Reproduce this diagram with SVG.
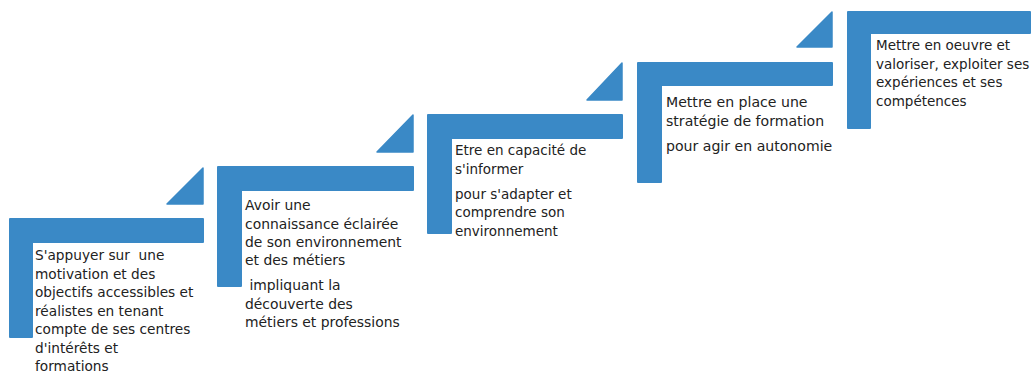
<svg xmlns="http://www.w3.org/2000/svg" width="1032" height="372" viewBox="0 0 1032 372">
<style>
.bar{fill:#3A89C6;stroke:#3A89C6;stroke-width:2;stroke-linejoin:round}
.tri{fill:#3A89C6;stroke:#3A89C6;stroke-width:1.5;stroke-linejoin:round}
.t{font-family:"DejaVu Sans","Liberation Sans",sans-serif;font-size:13.5px;fill:#222222;white-space:pre}
.t1{font-size:13.7px}
.t2{font-size:13.9px}
.t4{font-size:14.1px}
</style>
<rect width="1032" height="372" fill="#ffffff"/>
<g id="step1">
<path class="bar" d="M10,219 H203 V242 H32 V337 H10 Z"/>
<path class="tri" d="M203,168 V204 H167 Z"/>
<text class="t t1" x="35" y="260">S'appuyer sur  une</text>
<text class="t t1" x="35" y="278.5">motivation et des</text>
<text class="t t1" x="35" y="297">objectifs accessibles et</text>
<text class="t t1" x="35" y="315.5">réalistes en tenant</text>
<text class="t t1" x="35" y="334">compte de ses centres</text>
<text class="t t1" x="35" y="352.5">d'intérêts et</text>
<text class="t t1" x="35" y="370.5">formations</text>
</g>
<g id="step2">
<path class="bar" d="M218,167 H413 V190 H241 V286 H218 Z"/>
<path class="tri" d="M413,115 V152 H377 Z"/>
<text class="t t2" x="245" y="210">Avoir une</text>
<text class="t t2" x="245" y="228.5">connaissance éclairée</text>
<text class="t t2" x="245" y="247">de son environnement</text>
<text class="t t2" x="245" y="265">et des métiers</text>
<text class="t t2" x="245" y="290"> impliquant la</text>
<text class="t t2" x="245" y="308.5">découverte des</text>
<text class="t t2" x="245" y="327">métiers et professions</text>
</g>
<g id="step3">
<path class="bar" d="M428,115 H622 V138 H451 V233 H428 Z"/>
<path class="tri" d="M622,63 V100 H587 Z"/>
<text class="t" x="455" y="155">Etre en capacité de</text>
<text class="t" x="455" y="173.5">s'informer</text>
<text class="t" x="455" y="198.5">pour s'adapter et</text>
<text class="t" x="455" y="217">comprendre son</text>
<text class="t" x="455" y="235.5">environnement</text>
</g>
<g id="step4">
<path class="bar" d="M638,63 H832 V85 H661 V182 H638 Z"/>
<path class="tri" d="M832,12 V47 H797 Z"/>
<text class="t t4" x="666" y="107">Mettre en place une</text>
<text class="t t4" x="666" y="125.5">stratégie de formation</text>
<text class="t t4" x="666" y="150.5">pour agir en autonomie</text>
</g>
<g id="step5">
<path class="bar" d="M848,12 H1030 V33 H870 V128 H848 Z"/>
<text class="t" x="876" y="50">Mettre en oeuvre et</text>
<text class="t" x="876" y="68.5">valoriser, exploiter ses</text>
<text class="t" x="876" y="87">expériences et ses</text>
<text class="t" x="876" y="105.5">compétences</text>
</g>
</svg>
